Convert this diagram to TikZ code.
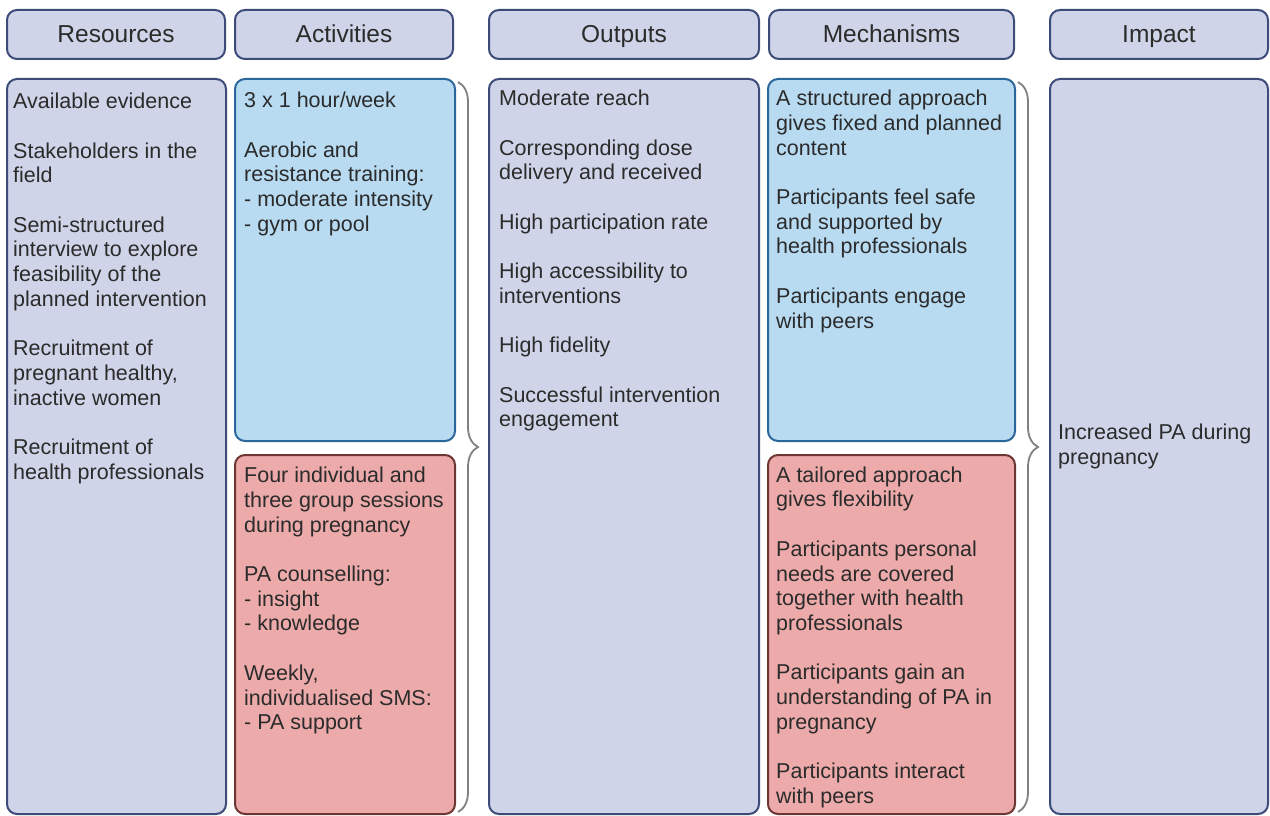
\documentclass[tikz,border=0pt]{standalone}
\usepackage{fontspec}
\setmainfont{Liberation Sans}
\usetikzlibrary{decorations.pathreplacing}

\definecolor{lavfill}{HTML}{CFD4E8}
\definecolor{lavline}{HTML}{3C4B78}
\definecolor{bluefill}{HTML}{B8DBF2}
\definecolor{blueline}{HTML}{2B679A}
\definecolor{redfill}{HTML}{EDAAAA}
\definecolor{redline}{HTML}{6E3632}
\definecolor{ink}{HTML}{2B2B2B}
\definecolor{bracegray}{HTML}{808080}

\newcommand{\pg}{\\[24.7pt]}
\newcommand{\fl}{\rule{0pt}{17pt}}

\begin{document}
\begin{tikzpicture}[x=1pt,y=-1pt,
  panel/.style={draw, line width=2pt, rounded corners=10pt, inner sep=0pt,
    outer sep=0pt, anchor=north west},
  lav/.style={panel, fill=lavfill, draw=lavline},
  blu/.style={panel, fill=bluefill, draw=blueline},
  rd/.style={panel, fill=redfill, draw=redline},
  head/.style={lav, minimum height=49pt},
  headtxt/.style={text=ink, font=\fontsize{24.5}{28}\selectfont, inner sep=0pt,
    anchor=base, yshift=-8.5pt},
  txt/.style={text=ink, anchor=north west, align=left, inner sep=0pt,
    font=\fontsize{21.5}{24.7}\selectfont},
  bracket/.style={draw=bracegray, line width=1.8pt,
    decorate, decoration={brace, amplitude=20pt}}
]
\useasboundingbox (0,0) rectangle (1270,816);

% column headers
\node[head, minimum width=218pt] (hRes) at (7,10) {};
\node[head, minimum width=218pt] (hAct) at (235,10) {};
\node[head, minimum width=270pt] (hOut) at (489,10) {};
\node[head, minimum width=245pt] (hMec) at (769,10) {};
\node[head, minimum width=218pt] (hImp) at (1050,10) {};
\node[headtxt] (tRes) at (hRes.center) {Resources};
\node[headtxt] (tAct) at (hAct.center) {Activities};
\node[headtxt] (tOut) at (hOut.center) {Outputs};
\node[headtxt] (tMec) at (hMec.center) {Mechanisms};
\node[headtxt] (tImp) at (hImp.center) {Impact};

% column panels
\node[lav, minimum width=219pt, minimum height=735pt] (res) at (7,79) {};
\node[blu, minimum width=220pt, minimum height=362pt] (actA) at (235,79) {};
\node[rd,  minimum width=220pt, minimum height=359pt] (actB) at (235,455) {};
\node[lav, minimum width=270pt, minimum height=735pt] (out) at (489,79) {};
\node[blu, minimum width=247pt, minimum height=362pt] (mecA) at (768,79) {};
\node[rd,  minimum width=247pt, minimum height=359pt] (mecB) at (768,455) {};
\node[lav, minimum width=218pt, minimum height=735pt] (imp) at (1050,79) {};

% panel texts
\node[txt] (resT) at (13,91.5) {\fl Available evidence\pg
  Stakeholders in the\\field\pg
  Semi-structured\\interview to explore\\feasibility of the\\planned intervention\pg
  Recruitment of\\pregnant healthy,\\inactive women\pg
  Recruitment of\\health professionals};

\node[txt] (actAT) at (244,90.5) {\fl 3 x 1 hour/week\pg
  Aerobic and\\resistance training:\\- moderate intensity\\- gym or pool};

\node[txt] (actBT) at (244,465.5) {\fl Four individual and\\three group sessions\\during pregnancy\pg
  PA counselling:\\- insight\\- knowledge\pg
  Weekly,\\individualised SMS:\\- PA support};

\node[txt] (outT) at (499,88.5) {\fl Moderate reach\pg
  Corresponding dose\\delivery and received\pg
  High participation rate\pg
  High accessibility to\\interventions\pg
  High fidelity\pg
  Successful intervention\\engagement};

\node[txt] (mecAT) at (776,88.5) {\fl A structured approach\\gives fixed and planned\\content\pg
  Participants feel safe\\and supported by\\health professionals\pg
  Participants engage\\with peers};

\node[txt] (mecBT) at (776,465) {\fl A tailored approach\\gives flexibility\pg
  Participants personal\\needs are covered\\together with health\\professionals\pg
  Participants gain an\\understanding of PA in\\pregnancy\pg
  Participants interact\\with peers};

\node[txt] (impT) at (1058,422.5) {\fl Increased PA during\\pregnancy};

% braces grouping the paired panels
\coordinate (bAtop) at (458,82);
\coordinate (bAbot) at (458,812);
\coordinate (bBtop) at (1018,82);
\coordinate (bBbot) at (1018,812);
\draw[bracket] (bAtop) -- (bAbot);
\draw[bracket] (bBtop) -- (bBbot);
\end{tikzpicture}
\end{document}
